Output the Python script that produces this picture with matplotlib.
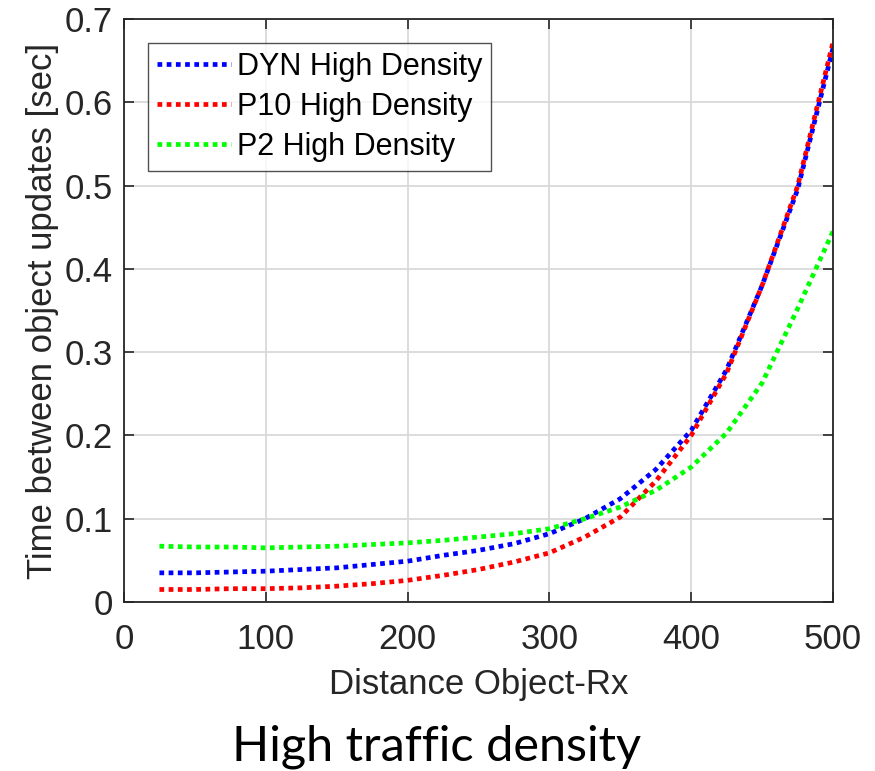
import numpy as np
import matplotlib
matplotlib.use("Agg")
import matplotlib.pyplot as plt

# data
distance = [25, 50, 75, 100, 125, 150, 175, 200, 225, 250, 275, 300,
            325, 350, 375, 400, 425, 450, 475, 500]
dyn_high = [0.035, 0.035, 0.036, 0.037, 0.039, 0.041, 0.045, 0.049, 0.056, 0.062,
            0.070, 0.082, 0.100, 0.124, 0.159, 0.206, 0.279, 0.380, 0.495, 0.665]
p10_high = [0.015, 0.015, 0.016, 0.016, 0.017, 0.019, 0.022, 0.026, 0.032, 0.039,
            0.048, 0.059, 0.078, 0.102, 0.145, 0.200, 0.275, 0.380, 0.499, 0.672]
p2_high = [0.067, 0.066, 0.066, 0.065, 0.066, 0.067, 0.069, 0.071, 0.074, 0.078,
           0.082, 0.088, 0.100, 0.114, 0.134, 0.162, 0.203, 0.263, 0.352, 0.445]
labels = ["DYN High Density", "P10 High Density", "P2 High Density"]
colors = ["#0000ff", "#ff0000", "#00ff00"]
xticks = [0, 100, 200, 300, 400, 500]
yticks = [0, 0.1, 0.2, 0.3, 0.4, 0.5, 0.6, 0.7]

plt.rcParams['font.family'] = ['Liberation Sans', 'DejaVu Sans']
ink = "#262626"

fig = plt.figure(figsize=(8.75, 7.71), dpi=100)
ax = fig.add_axes([0.1417, 0.2192, 0.8103, 0.7562])

for ys, lab, c in zip([dyn_high, p10_high, p2_high], labels, colors):
    ax.plot(distance, ys, color=c, lw=3.4, linestyle=(0, (1.0, 0.95)),
            dash_capstyle='butt', label=lab)

ax.set_xlim(0, 500)
ax.set_ylim(0, 0.7)
ax.set_xticks(xticks)
ax.set_yticks(yticks)
ax.set_yticklabels(["0"] + ["%.1f" % v for v in yticks[1:]])
ax.grid(True, color="#d9d9d9", lw=1.3)
ax.set_axisbelow(True)
ax.tick_params(direction='in', length=7, width=1.2, colors=ink, labelsize=25,
               top=True, right=True)
ax.tick_params(axis='x', pad=15)
ax.tick_params(axis='y', pad=8)
for s in ax.spines.values():
    s.set_color(ink)
    s.set_linewidth(1.3)

ax.set_xlabel("Distance Object-Rx", fontsize=25, color=ink, labelpad=9)
ax.set_ylabel("Time between object updates [sec]", fontsize=25, color=ink, labelpad=4)

leg = ax.legend(loc='upper left', bbox_to_anchor=(0.034, 0.959), fontsize=22,
                frameon=True, fancybox=False, edgecolor=ink, handlelength=2.4,
                handletextpad=0.2, borderpad=0.3, labelspacing=0.32,
                borderaxespad=0)
leg.get_frame().set_linewidth(1.0)

fig.text(0.499, 0.032, "High traffic density", fontsize=35, ha='center',
         va='center', family=['Lato', 'DejaVu Sans'], color='black')

fig.savefig("out.png", dpi=100)
